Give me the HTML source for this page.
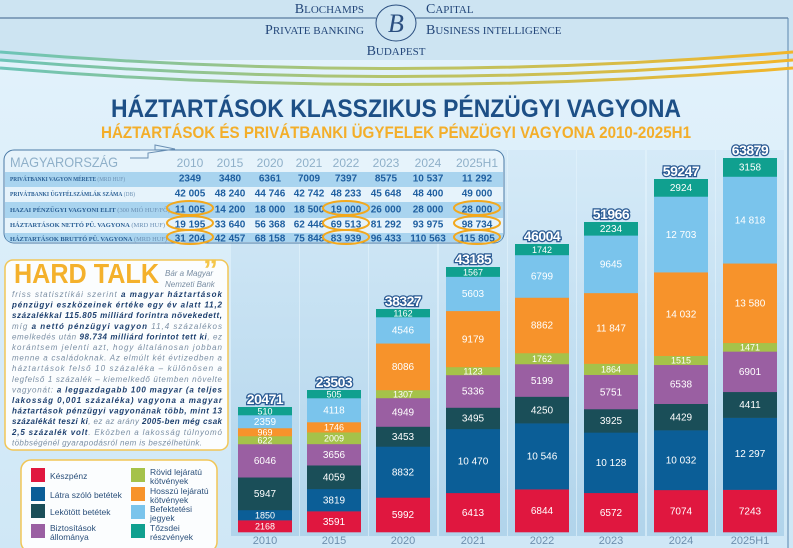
<!DOCTYPE html>
<html><head><meta charset="utf-8"><style>
html,body{margin:0;padding:0;}
body{width:793px;height:548px;overflow:hidden;background:#d9edf9;font-family:"Liberation Sans",sans-serif;}
svg{display:block}
</style></head><body>
<svg id="s" width="793" height="548" viewBox="0 0 793 548" xmlns="http://www.w3.org/2000/svg">
<defs>
<linearGradient id="bg" x1="0" y1="0" x2="0" y2="1"><stop offset="0" stop-color="#e4f3fc"/><stop offset="1" stop-color="#cfe7f6"/></linearGradient>
<linearGradient id="col" x1="0" y1="0" x2="0" y2="1"><stop offset="0" stop-color="#d3e9f7"/><stop offset="1" stop-color="#a9cfe8"/></linearGradient>
<linearGradient id="wave" x1="0" y1="0" x2="1" y2="0"><stop offset="0" stop-color="#6cc4b8"/><stop offset="0.5" stop-color="#b6c46a"/><stop offset="1" stop-color="#f2b52a"/></linearGradient>
</defs>
<rect width="793" height="548" fill="url(#bg)"/>
<rect width="793" height="60" fill="#cde4f2"/>
<line x1="0" y1="18" x2="376" y2="18" stroke="#3a5f8a" stroke-width="1"/>
<line x1="416" y1="18" x2="788" y2="18" stroke="#3a5f8a" stroke-width="1"/>
<line x1="788" y1="18" x2="788" y2="548" stroke="#5a86ad" stroke-width="1"/>
<ellipse cx="396" cy="23" rx="20" ry="18" fill="#cde4f2" stroke="#2b4f80" stroke-width="1"/>
<text x="396" y="32" font-family="Liberation Serif,serif" font-style="italic" font-size="26" fill="#2b4f80" text-anchor="middle">B</text>
<g font-family="Liberation Serif,serif" fill="#24477a">
<text x="364" y="13" text-anchor="end" font-size="14">B<tspan font-size="11">LOCHAMPS</tspan></text>
<text x="426" y="13" font-size="14">C<tspan font-size="11">APITAL</tspan></text>
<text x="364" y="34" text-anchor="end" font-size="14">P<tspan font-size="11">RIVATE BANKING</tspan></text>
<text x="426" y="34" font-size="14">B<tspan font-size="11">USINESS INTELLIGENCE</tspan></text>
<text x="396" y="55" text-anchor="middle" font-size="14">B<tspan font-size="11">UDAPEST</tspan></text>
</g>
<g fill="none" stroke="url(#wave)" stroke-width="3">
<path d="M0,52 Q396,85 793,52"/><path d="M0,60 Q396,93 793,60"/><path d="M0,68 Q396,101 793,68"/>
</g>
<text x="396" y="117" text-anchor="middle" font-size="25" font-weight="bold" fill="#1d4f86" textLength="570" lengthAdjust="spacingAndGlyphs">HÁZTARTÁSOK KLASSZIKUS PÉNZÜGYI VAGYONA</text>
<text x="396" y="138" text-anchor="middle" font-size="17" font-weight="bold" fill="#f3ae2a" textLength="590" lengthAdjust="spacingAndGlyphs">HÁZTARTÁSOK ÉS PRIVÁTBANKI ÜGYFELEK PÉNZÜGYI VAGYONA 2010-2025H1</text>
<g id="bars"></g>
<g>
<rect x="4" y="150" width="500" height="93" rx="10" fill="#e6f3fb" stroke="#4a7aa6" stroke-width="1"/>
<rect x="5" y="172" width="498" height="15" fill="#a9d4ef"/>
<rect x="5" y="202" width="498" height="16" fill="#a9d4ef"/>
<path d="M5,233 H503 V234 Q503,242 495,242 H13 Q5,242 5,234 Z" fill="#a9d4ef"/>
<path d="M130,158 L148,158 L148,153 L175,149 M130,158 L148,158" fill="none" stroke="#6a8fb3"/>
<path d="M140,150 L155,150 L155,145 L175,149" fill="none" stroke="#6a8fb3"/>
<text x="10" y="167" font-size="14" fill="#8fb0c9" textLength="108" lengthAdjust="spacingAndGlyphs">MAGYARORSZÁG</text>
<g id="tbl"></g>
</g>
<rect x="5" y="260" width="223" height="190" rx="8" fill="#fbfdfe" stroke="#f1c657" stroke-width="1.5"/>
<text x="14" y="283" font-size="28" font-weight="bold" fill="#f4b12c" textLength="145" lengthAdjust="spacingAndGlyphs">HARD TALK</text>
<text x="203" y="280" font-size="30" font-weight="bold" fill="#f4c64a">”</text>
<g font-size="8" font-style="italic" fill="#7a8ea3">
<text x="165" y="276">Bár a Magyar</text>
<text x="165" y="287">Nemzeti Bank</text>
<text x="12" y="297" textLength="210">friss statisztikái szerint <tspan font-weight="bold" fill="#1c3f6e">a magyar háztartások</tspan></text>
<text x="12" y="307.6" font-weight="bold" fill="#1c3f6e" textLength="210">pénzügyi eszközeinek értéke egy év alatt 11,2</text>
<text x="12" y="318.2" font-weight="bold" fill="#1c3f6e" textLength="210">százalékkal 115.805 milliárd forintra növekedett,</text>
<text x="12" y="328.8" textLength="210">míg <tspan font-weight="bold" fill="#1c3f6e">a nettó pénzügyi vagyon</tspan> 11,4 százalékos</text>
<text x="12" y="339.4" textLength="210">emelkedés után <tspan font-weight="bold" fill="#1c3f6e">98.734 milliárd forintot tett ki</tspan>, ez</text>
<text x="12" y="350" textLength="210">korántsem jelenti azt, hogy általánosan jobban</text>
<text x="12" y="360.6" textLength="210">menne a családoknak. Az elmúlt két évtizedben a</text>
<text x="12" y="371.2" textLength="210">háztartások felső 10 százaléka – különösen a</text>
<text x="12" y="381.8" textLength="210">legfelső 1 százalék – kiemelkedő ütemben növelte</text>
<text x="12" y="392.4" textLength="210">vagyonát: <tspan font-weight="bold" fill="#1c3f6e">a leggazdagabb 100 magyar (a teljes</tspan></text>
<text x="12" y="403" font-weight="bold" fill="#1c3f6e" textLength="210">lakosság 0,001 százaléka) vagyona a magyar</text>
<text x="12" y="413.6" font-weight="bold" fill="#1c3f6e" textLength="210">háztartások pénzügyi vagyonának több, mint 13</text>
<text x="12" y="424.2" textLength="210"><tspan font-weight="bold" fill="#1c3f6e">százalékát teszi ki</tspan>, ez az arány <tspan font-weight="bold" fill="#1c3f6e">2005-ben még csak</tspan></text>
<text x="12" y="434.8" textLength="210"><tspan font-weight="bold" fill="#1c3f6e">2,5 százalék volt</tspan>. Eközben a lakosság túlnyomó</text>
<text x="12" y="445.4" textLength="190">többségénél gyarapodásról nem is beszélhetünk.</text>
</g>
<rect x="21" y="460" width="196" height="92" rx="10" fill="#fbfdfe" stroke="#f1c657" stroke-width="1.5"/>
<g font-size="8.5" fill="#2a4f7a">
<rect x="31" y="468" width="14" height="14" fill="#e0173f"/><text x="50" y="479">Készpénz</text>
<rect x="31" y="487" width="14" height="14" fill="#0b5e97"/><text x="50" y="498">Látra szóló betétek</text>
<rect x="31" y="504" width="14" height="14" fill="#1a4e58"/><text x="50" y="515">Lekötött betétek</text>
<rect x="31" y="524" width="14" height="14" fill="#9a5fa2"/><text x="50" y="531">Biztosítások</text><text x="50" y="540">állománya</text>
<rect x="131" y="468" width="14" height="14" fill="#a5c24a"/><text x="150" y="475">Rövid lejáratú</text><text x="150" y="484">kötvények</text>
<rect x="131" y="487" width="14" height="14" fill="#f7932b"/><text x="150" y="494">Hosszú lejáratú</text><text x="150" y="503">kötvények</text>
<rect x="131" y="505" width="14" height="14" fill="#7ac4ec"/><text x="150" y="512">Befektetési</text><text x="150" y="521">jegyek</text>
<rect x="131" y="524" width="14" height="14" fill="#10a08f"/><text x="150" y="531">Tőzsdei</text><text x="150" y="540">részvények</text>
</g>
</svg>
<script>
var NS="http://www.w3.org/2000/svg";
function el(p,t,a,txt){var e=document.createElementNS(NS,t);for(var k in a)e.setAttribute(k,a[k]);if(txt!=null)e.textContent=txt;p.appendChild(e);return e;}
var cols=["#e0173f","#0b5e97","#1a4e58","#9a5fa2","#a5c24a","#f7932b","#7ac4ec","#10a08f"];
var data=[
["2010",238,407,"20471",[2168,1850,5947,6046,622,969,2359,510]],
["2015",307,390,"23503",[3591,3819,4059,3656,2009,1746,4118,505]],
["2020",376,309,"38327",[5992,8832,3453,4949,1307,8086,4546,1162]],
["2021",446,267,"43185",[6413,10470,3495,5336,1123,9179,5603,1567]],
["2022",515,244,"46004",[6844,10546,4250,5199,1762,8862,6799,1742]],
["2023",584,222,"51966",[6572,10128,3925,5751,1864,11847,9645,2234]],
["2024",654,179,"59247",[7074,10032,4429,6538,1515,14032,12703,2924]],
["2025H1",723,158,"63879",[7243,12297,4411,6901,1471,13580,14818,3158]]];
var g=document.getElementById("bars"),base=532;
data.forEach(function(d){
 var x=d[1],w=54;
 el(g,"rect",{x:x-7,y:150,width:w+14,height:base-150+4,fill:"url(#col)",opacity:0.8});
 var H=base-d[2],vals=d[4],tot=vals.reduce(function(a,b){return a+b},0),mn=8;
 var hs=vals.map(function(v){return v/tot*H});
 var extra=0,free=0;hs.forEach(function(h){if(h<mn)extra+=mn-h;else free+=h;});
 hs=hs.map(function(h){return h<mn?mn:h-(h/free)*extra;});
 var y=base;
 vals.forEach(function(v,i){var h=hs[i];y-=h;
  el(g,"rect",{x:x,y:y,width:w,height:h+0.3,fill:cols[i]});
  var s=v>=10000?String(v).replace(/(\d\d)(\d{3})$/,"$1 $2"):String(v);
  el(g,"text",{x:x+w/2,y:y+h/2+3.5,"text-anchor":"middle","font-size":h<12?9:10,fill:"#fff"},s);
 });
 el(g,"text",{x:x+w/2,y:d[2]-3,"text-anchor":"middle","font-size":14,"font-weight":"bold",fill:"#fff",stroke:"#2a5a93","stroke-width":2.5,"paint-order":"stroke","letter-spacing":"-0.5"},d[3]);
 el(g,"text",{x:x+w/2,y:544,"text-anchor":"middle","font-size":11,fill:"#6d8fae"},d[0]);
});
var t=document.getElementById("tbl");
var cx=[190,230,270,309,346,386,428,477];
["2010","2015","2020","2021","2022","2023","2024","2025H1"].forEach(function(y,i){el(t,"text",{x:cx[i],y:167,"text-anchor":"middle","font-size":12,fill:"#8fb0c9"},y);});
var rows=[["PRIVÁTBANKI VAGYON MÉRETE"," (MRD HUF)",["2349","3480","6361","7009","7397","8575","10 537","11 292"],115],
["PRIVÁTBANKI ÜGYFÉLSZÁMLÁK SZÁMA"," (DB)",["42 005","48 240","44 746","42 742","48 233","45 648","48 400","49 000"],125],
["HAZAI PÉNZÜGYI VAGYONI ELIT"," (300 MIÓ HUF/FŐ)",["11 005","14 200","18 000","18 500","19 000","26 000","28 000","28 000"],160],
["HÁZTARTÁSOK NETTÓ PÜ. VAGYONA"," (MRD HUF)",["19 195","33 640","56 368","62 446","69 513","81 292","93 975","98 734"],155],
["HÁZTARTÁSOK BRUTTÓ PÜ. VAGYONA"," (MRD HUF)",["31 204","42 457","68 158","75 848","83 939","96 433","110 563","115 805"],157]];
var ry=[183,198,214,229,243];
rows.forEach(function(r,j){
 var tx=el(t,"text",{x:10,y:ry[j]-2,"font-size":6.5,"font-family":"Liberation Serif,serif","font-weight":"bold",fill:"#2a5f94",textLength:r[3],lengthAdjust:"spacingAndGlyphs"});
 el(tx,"tspan",{},r[0]);el(tx,"tspan",{"font-weight":"normal",fill:"#6a8fb3"},r[1]);
 r[2].forEach(function(v,i){el(t,"text",{x:cx[i],y:ry[j]-1.5,"text-anchor":"middle","font-size":10,"font-weight":"bold",fill:"#1f5fa0"},v);});
});
[[190,213],[190,228],[190,242],[346,213],[346,228],[346,242],[477,213],[477,228],[477,242]].forEach(function(p){
 el(t,"ellipse",{cx:p[0],cy:p[1]-5,rx:23,ry:7,fill:"none",stroke:"#f2a81d","stroke-width":2});
});
</script>
</body></html>
